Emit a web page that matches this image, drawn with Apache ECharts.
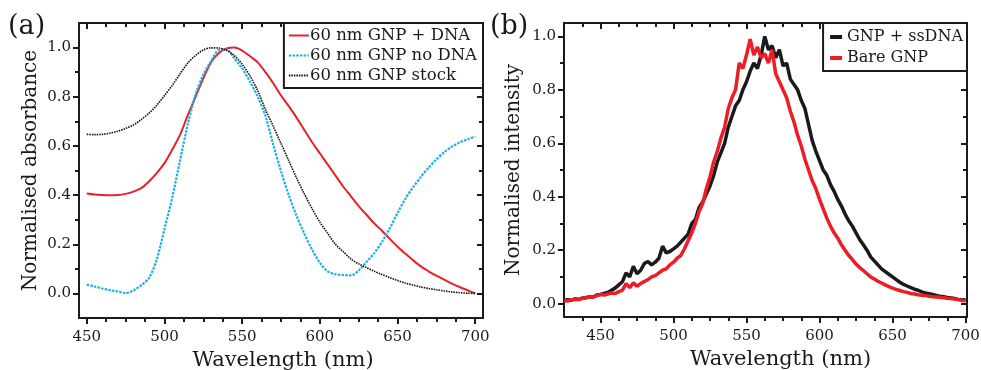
<!DOCTYPE html>
<html>
<head>
<meta charset="utf-8">
<script src="https://cdn.jsdelivr.net/npm/echarts@6/dist/echarts.min.js"></script>
<style>
  html, body { margin: 0; padding: 0; background: #fff; }
  #chart { width: 981px; height: 370px; }
</style>
</head>
<body>
<div id="chart"></div>
<script>
// panel (a): absorbance spectra, every 5 nm
const wlA = [450,455,460,465,470,475,480,485,490,495,500,505,510,515,520,525,530,535,540,545,
  550,555,560,565,570,575,580,585,590,595,600,605,610,615,620,625,630,635,640,645,
  650,655,660,665,670,675,680,685,690,695,700];
const withDnaA = [0.406,0.402,0.400,0.399,0.400,0.405,0.414,0.428,0.455,0.489,0.530,0.585,0.645,0.725,0.800,0.875,0.940,0.978,0.996,1.000,
  0.988,0.965,0.940,0.900,0.855,0.805,0.762,0.715,0.665,0.615,0.570,0.525,0.480,0.435,0.395,0.355,0.320,0.285,0.255,0.222,
  0.190,0.162,0.135,0.110,0.090,0.072,0.056,0.040,0.026,0.013,0.000];
const noDnaA = [0.036,0.028,0.020,0.013,0.008,0.001,0.012,0.033,0.062,0.137,0.262,0.390,0.540,0.688,0.808,0.890,0.945,0.990,0.992,0.955,
  0.915,0.862,0.800,0.722,0.605,0.497,0.400,0.316,0.243,0.178,0.125,0.090,0.078,0.075,0.073,0.093,0.128,0.164,0.210,0.265,
  0.327,0.385,0.432,0.474,0.512,0.545,0.574,0.597,0.614,0.627,0.638];
const stockA = [0.647,0.646,0.647,0.652,0.660,0.671,0.685,0.707,0.733,0.765,0.805,0.846,0.893,0.937,0.968,0.990,0.999,0.998,0.989,0.967,
  0.932,0.885,0.825,0.748,0.680,0.610,0.540,0.470,0.405,0.345,0.290,0.245,0.200,0.170,0.140,0.120,0.105,0.090,0.077,0.064,
  0.053,0.042,0.034,0.026,0.020,0.015,0.010,0.006,0.003,0.001,0.000];

// panel (b): emission spectra, every 2.5 nm
const wlB = [425,427.5,430,432.5,435,437.5,440,442.5,445,447.5,
  450,452.5,455,457.5,460,462.5,465,467.5,470,472.5,
  475,477.5,480,482.5,485,487.5,490,492.5,495,497.5,
  500,502.5,505,507.5,510,512.5,515,517.5,520,522.5,
  525,527.5,530,532.5,535,537.5,540,542.5,545,547.5,
  550,552.5,555,557.5,560,562.5,565,567.5,570,572.5,
  575,577.5,580,582.5,585,587.5,590,592.5,595,597.5,
  600,602.5,605,607.5,610,612.5,615,617.5,620,622.5,
  625,627.5,630,632.5,635,637.5,640,642.5,645,647.5,
  650,652.5,655,657.5,660,662.5,665,667.5,670,672.5,
  675,677.5,680,682.5,685,687.5,690,692.5,695,697.5,
  700];
const ssDnaB = [0.012,0.015,0.013,0.018,0.016,0.021,0.022,0.026,0.025,0.032,
  0.034,0.038,0.042,0.050,0.058,0.070,0.082,0.115,0.100,0.140,
  0.112,0.125,0.150,0.158,0.145,0.155,0.170,0.215,0.190,0.195,
  0.205,0.215,0.230,0.245,0.260,0.300,0.315,0.360,0.380,0.410,
  0.440,0.480,0.530,0.565,0.600,0.660,0.700,0.740,0.760,0.800,
  0.830,0.870,0.900,0.880,0.930,1.000,0.950,0.965,0.920,0.950,
  0.890,0.900,0.840,0.820,0.800,0.760,0.730,0.670,0.610,0.570,
  0.535,0.500,0.480,0.445,0.420,0.390,0.365,0.335,0.310,0.290,
  0.265,0.240,0.220,0.200,0.175,0.160,0.145,0.130,0.120,0.110,
  0.100,0.090,0.080,0.072,0.066,0.060,0.054,0.050,0.044,0.040,
  0.037,0.034,0.031,0.028,0.026,0.023,0.021,0.019,0.016,0.014,
  0.015];
const bareB = [0.012,0.010,0.014,0.016,0.015,0.020,0.022,0.026,0.024,0.030,
  0.035,0.032,0.036,0.040,0.038,0.045,0.050,0.075,0.060,0.078,
  0.065,0.075,0.083,0.090,0.100,0.105,0.115,0.125,0.130,0.145,
  0.155,0.170,0.180,0.205,0.235,0.265,0.300,0.345,0.375,0.430,
  0.475,0.530,0.570,0.620,0.660,0.730,0.770,0.800,0.900,0.880,
  0.930,0.990,0.930,0.960,0.920,0.935,0.900,0.950,0.860,0.830,
  0.800,0.770,0.720,0.680,0.630,0.590,0.540,0.500,0.460,0.430,
  0.390,0.355,0.320,0.290,0.265,0.245,0.220,0.200,0.180,0.165,
  0.148,0.135,0.124,0.112,0.100,0.092,0.084,0.077,0.070,0.064,
  0.058,0.053,0.049,0.045,0.042,0.038,0.036,0.033,0.031,0.030,
  0.028,0.026,0.025,0.024,0.022,0.020,0.019,0.017,0.015,0.012,
  0.011];

// tick positions
const xMajor = [450,500,550,600,650,700];
const xMinorA = [462.5,475,487.5,512.5,525,537.5,562.5,575,587.5,612.5,625,637.5,662.5,675,687.5];
const xMinorB = [437.5,462.5,475,487.5,512.5,525,537.5,562.5,575,587.5,612.5,625,637.5,662.5,675,687.5];
const yMajor = [0,0.2,0.4,0.6,0.8,1.0];
const yMinor = [0.1,0.3,0.5,0.7,0.9];

const font = 'DejaVu Serif';
const ink = '#1a1a1a';
const tickStyle = { color: ink, width: 2 };

function xSet(grid, min, max, minor, name, namePad) {
  const base = { type: 'value', gridIndex: grid, min, max, splitLine: { show: false } };
  const noLine = { show: false, onZero: false };
  const hidden = { show: false };
  return [
    { ...base, position: 'bottom', name, nameLocation: 'middle', nameGap: 30,
      nameTextStyle: { fontFamily: font, fontSize: 21, color: ink, padding: namePad },
      axisLine: { onZero: false, lineStyle: tickStyle },
      axisTick: { customValues: xMajor, length: 6, lineStyle: tickStyle },
      axisLabel: { customValues: xMajor, fontFamily: font, fontSize: 15, color: ink, margin: 12 } },
    { ...base, position: 'bottom', axisLine: noLine, axisLabel: hidden,
      axisTick: { customValues: minor, length: 4, lineStyle: tickStyle } },
    { ...base, position: 'top', axisLine: { onZero: false, lineStyle: tickStyle }, axisLabel: hidden,
      axisTick: { inside: true, customValues: xMajor, length: 6, lineStyle: tickStyle } },
    { ...base, position: 'top', axisLine: noLine, axisLabel: hidden,
      axisTick: { inside: true, customValues: minor, length: 4, lineStyle: tickStyle } }
  ];
}

function ySet(grid, min, max, name, nameGap) {
  const base = { type: 'value', gridIndex: grid, min, max, splitLine: { show: false } };
  const noLine = { show: false, onZero: false };
  const hidden = { show: false };
  return [
    { ...base, position: 'left', name, nameLocation: 'middle', nameGap,
      nameTextStyle: { fontFamily: font, fontSize: 20, color: ink },
      axisLine: { onZero: false, lineStyle: tickStyle },
      axisTick: { customValues: yMajor, length: 6, lineStyle: tickStyle },
      axisLabel: { customValues: yMajor, fontFamily: font, fontSize: 15, color: ink, margin: 8,
        formatter: (v) => v.toFixed(1) } },
    { ...base, position: 'left', axisLine: noLine, axisLabel: hidden,
      axisTick: { customValues: yMinor, length: 4, lineStyle: tickStyle } },
    { ...base, position: 'right', axisLine: { onZero: false, lineStyle: tickStyle }, axisLabel: hidden,
      axisTick: { inside: true, customValues: yMajor, length: 6, lineStyle: tickStyle } },
    { ...base, position: 'right', axisLine: noLine, axisLabel: hidden,
      axisTick: { inside: true, customValues: yMinor, length: 4, lineStyle: tickStyle } }
  ];
}

const pairs = (xs, ys) => xs.map((x, i) => [x, ys[i]]);

const chart = echarts.init(document.getElementById('chart'), null, { renderer: 'canvas' });
chart.setOption({
  animation: false,
  backgroundColor: '#fff',
  grid: [
    { left: 79, right: 498, top: 23, bottom: 52, containLabel: false, outerBoundsMode: 'none' },
    { left: 564, right: 14, top: 23, bottom: 53, containLabel: false, outerBoundsMode: 'none' }
  ],
  xAxis: [...xSet(0, 445, 705, xMinorA, 'Wavelength (nm)', [0, 0, 0, 4]),
          ...xSet(1, 425, 701, xMinorB, 'Wavelength (nm)', [0, 0, 0, 30])],
  yAxis: [...ySet(0, -0.1, 1.1, 'Normalised absorbance', 38), ...ySet(1, -0.05, 1.05, 'Normalised intensity', 40)],
  graphic: [
    { type: 'text', left: 8, top: 13, style: { text: '(a)', font: '27px "DejaVu Serif"', fill: ink } },
    { type: 'text', left: 490, top: 13, style: { text: '(b)', font: '27px "DejaVu Serif"', fill: ink } }
  ],
  legend: [
    { data: ['60 nm GNP + DNA', '60 nm GNP no DNA', '60 nm GNP stock'],
      orient: 'vertical', right: 498, top: 23, itemWidth: 20, itemHeight: 14, itemGap: 3,
      padding: [4, 6, 4, 4], borderColor: ink, borderWidth: 2, borderRadius: 0, backgroundColor: '#fff',
      itemStyle: { color: 'transparent', borderWidth: 0 },
      textStyle: { fontFamily: font, fontSize: 16.5, color: ink, padding: [0, 0, 0, -4] } },
    { data: ['GNP + ssDNA', 'Bare GNP'],
      orient: 'vertical', right: 14, top: 23, itemWidth: 12, itemHeight: 16, itemGap: 5,
      padding: [6, 4, 5, 5], borderColor: ink, borderWidth: 2, borderRadius: 0, backgroundColor: '#fff',
      itemStyle: { color: 'transparent', borderWidth: 0 },
      lineStyle: { width: 4 },
      textStyle: { fontFamily: font, fontSize: 16, color: ink } }
  ],
  series: [
    { name: '60 nm GNP + DNA', type: 'line', xAxisIndex: 0, yAxisIndex: 0, smooth: 0.3, symbol: 'none',
      data: pairs(wlA, withDnaA), lineStyle: { color: '#e8202a', width: 2 }, itemStyle: { color: '#e8202a' } },
    { name: '60 nm GNP no DNA', type: 'line', xAxisIndex: 0, yAxisIndex: 0, smooth: 0.3, symbol: 'none',
      data: pairs(wlA, noDnaA), lineStyle: { color: '#1ab0e6', width: 2.2, type: [2.5, 1.2] }, itemStyle: { color: '#1ab0e6' } },
    { name: '60 nm GNP stock', type: 'line', xAxisIndex: 0, yAxisIndex: 0, smooth: 0.3, symbol: 'none',
      data: pairs(wlA, stockA), lineStyle: { color: '#111', width: 1.6, type: [1.5, 1] }, itemStyle: { color: '#111' } },
    { name: 'GNP + ssDNA', type: 'line', xAxisIndex: 4, yAxisIndex: 4, symbol: 'none',
      data: pairs(wlB, ssDnaB), lineStyle: { color: '#1a1a1a', width: 3.5 }, itemStyle: { color: '#1a1a1a' } },
    { name: 'Bare GNP', type: 'line', xAxisIndex: 4, yAxisIndex: 4, symbol: 'none',
      data: pairs(wlB, bareB), lineStyle: { color: '#ee1c25', width: 3.5 }, itemStyle: { color: '#ee1c25' } }
  ]
});
</script>
</body>
</html>
